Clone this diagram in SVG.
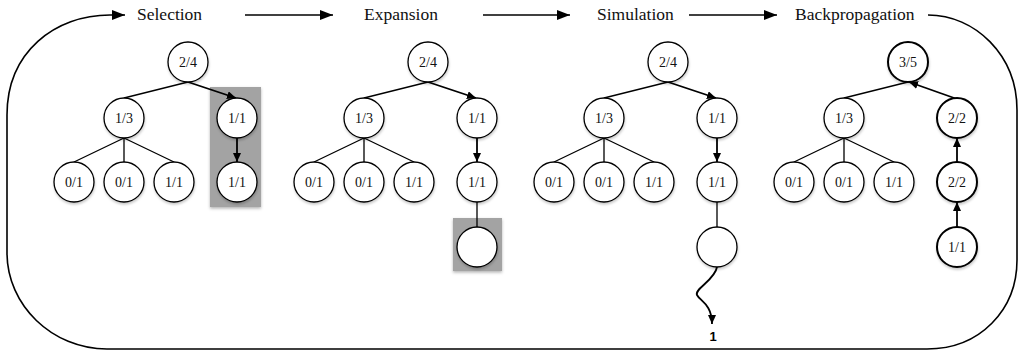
<svg xmlns="http://www.w3.org/2000/svg" width="1020" height="353" viewBox="0 0 1020 353">
<style>
.title{font-size:17.5px;fill:#111}
.lbl{font-size:14px;fill:#111;text-anchor:middle}
.n{fill:#fff;stroke:#000;stroke-width:1.3;filter:url(#sh)}
.nb{fill:#fff;stroke:#000;stroke-width:2;filter:url(#sh)}
.e{stroke:#000;stroke-width:1.3;fill:none}
.ea{stroke:#000;stroke-width:1.8;fill:none;marker-end:url(#ah)}
.flow{stroke:#000;stroke-width:1.6;fill:none}
.hl{fill:#a3a3a3;filter:url(#sh2)}
</style>
<defs>
<filter id="sh" x="-30%" y="-30%" width="160%" height="170%"><feDropShadow dx="0.5" dy="2" stdDeviation="1.2" flood-color="#000" flood-opacity="0.2"/></filter>
<filter id="sh2" x="-20%" y="-20%" width="140%" height="140%"><feDropShadow dx="0" dy="1.5" stdDeviation="1.5" flood-color="#000" flood-opacity="0.3"/></filter>
<marker id="ta" markerUnits="userSpaceOnUse" markerWidth="14" markerHeight="11" refX="13" refY="5" orient="auto"><path d="M0,0 L13,5 L0,10 z" fill="#000"/></marker>
<marker id="ah" markerUnits="userSpaceOnUse" markerWidth="10" markerHeight="9" refX="9" refY="4" orient="auto"><path d="M0,0 L9,4 L0,8 z" fill="#000"/></marker>
</defs>
<rect width="1020" height="353" fill="#fff"/>

<g id="titles" font-family="Liberation Serif, Times New Roman, serif">
<text class="title" x="137" y="20">Selection</text>
<text class="title" x="364" y="20">Expansion</text>
<text class="title" x="597" y="20">Simulation</text>
<text class="title" x="795" y="20">Backpropagation</text>
</g>

<rect id="hl-selection" class="hl" x="210" y="87" width="51" height="120"/>
<rect id="hl-expansion" class="hl" x="453" y="218" width="49" height="53"/>

<g id="connectors">
<path class="flow" marker-end="url(#ta)" d="M928,15 C975,15 1017,55 1017,110 L1017,260 C1017,310 980,349 927,349 L107,349 C52,349 7,305 7,253 L7,115 C7,52 55,15 110,15 L125,15"/>
<path class="flow" marker-end="url(#ta)" d="M245,15 L333,15"/>
<path class="flow" marker-end="url(#ta)" d="M483,15 L570,15"/>
<path class="flow" marker-end="url(#ta)" d="M689,15 L777,15"/>
<path class="e" d="M188,82 L124,98 M124,138 L74,162 M124,138 L124,162 M124,138 L174,162"/>
<path class="ea" d="M188,82 L236,98"/>
<path class="ea" d="M237,138 L237,162"/>
<path class="e" d="M428,82 L364,98 M364,138 L314,162 M364,138 L364,162 M364,138 L414,162 M477,202 L477,227"/>
<path class="ea" d="M428,82 L476,98"/>
<path class="ea" d="M477,138 L477,162"/>
<path class="e" d="M668,82 L604,98 M604,138 L554,162 M604,138 L604,162 M604,138 L654,162 M717,202 L717,227"/>
<path class="ea" d="M668,82 L716,98"/>
<path class="ea" d="M717,138 L717,162"/>
<path class="ea" d="M717,267 C715,280 694,289 697,295 C700,301 712,304 712,324"/>
<path class="e" d="M908,82 L844,98 M844,138 L794,162 M844,138 L844,162 M844,138 L894,162"/>
<path class="ea" d="M957,99 L909,82"/>
<path class="ea" d="M957,162 L957,138"/>
<path class="ea" d="M957,227 L957,202"/>
</g>
<text id="result" x="713" y="341" font-family="Liberation Sans, Arial, sans-serif" font-size="13" font-weight="bold" text-anchor="middle">1</text>

<g id="nodes" font-family="Liberation Serif, Times New Roman, serif">
<g id="s-root"><circle class="n" cx="188" cy="62" r="20"/><text class="lbl" x="188" y="67">2/4</text></g>
<g id="s-a"><circle class="n" cx="124" cy="118" r="20"/><text class="lbl" x="124" y="123">1/3</text></g>
<g id="s-b"><circle class="n" cx="237" cy="118" r="20"/><text class="lbl" x="237" y="123">1/1</text></g>
<g id="s-a1"><circle class="n" cx="74" cy="182" r="20"/><text class="lbl" x="74" y="187">0/1</text></g>
<g id="s-a2"><circle class="n" cx="124" cy="182" r="20"/><text class="lbl" x="124" y="187">0/1</text></g>
<g id="s-a3"><circle class="n" cx="174" cy="182" r="20"/><text class="lbl" x="174" y="187">1/1</text></g>
<g id="s-b1"><circle class="n" cx="237" cy="182" r="20"/><text class="lbl" x="237" y="187">1/1</text></g>

<g id="e-root"><circle class="n" cx="428" cy="62" r="20"/><text class="lbl" x="428" y="67">2/4</text></g>
<g id="e-a"><circle class="n" cx="364" cy="118" r="20"/><text class="lbl" x="364" y="123">1/3</text></g>
<g id="e-b"><circle class="n" cx="477" cy="118" r="20"/><text class="lbl" x="477" y="123">1/1</text></g>
<g id="e-a1"><circle class="n" cx="314" cy="182" r="20"/><text class="lbl" x="314" y="187">0/1</text></g>
<g id="e-a2"><circle class="n" cx="364" cy="182" r="20"/><text class="lbl" x="364" y="187">0/1</text></g>
<g id="e-a3"><circle class="n" cx="414" cy="182" r="20"/><text class="lbl" x="414" y="187">1/1</text></g>
<g id="e-b1"><circle class="n" cx="477" cy="182" r="20"/><text class="lbl" x="477" y="187">1/1</text></g>
<g id="e-b2"><circle class="n" cx="477" cy="247" r="20"/></g>

<g id="m-root"><circle class="n" cx="668" cy="62" r="20"/><text class="lbl" x="668" y="67">2/4</text></g>
<g id="m-a"><circle class="n" cx="604" cy="118" r="20"/><text class="lbl" x="604" y="123">1/3</text></g>
<g id="m-b"><circle class="n" cx="717" cy="118" r="20"/><text class="lbl" x="717" y="123">1/1</text></g>
<g id="m-a1"><circle class="n" cx="554" cy="182" r="20"/><text class="lbl" x="554" y="187">0/1</text></g>
<g id="m-a2"><circle class="n" cx="604" cy="182" r="20"/><text class="lbl" x="604" y="187">0/1</text></g>
<g id="m-a3"><circle class="n" cx="654" cy="182" r="20"/><text class="lbl" x="654" y="187">1/1</text></g>
<g id="m-b1"><circle class="n" cx="717" cy="182" r="20"/><text class="lbl" x="717" y="187">1/1</text></g>
<g id="m-b2"><circle class="n" cx="717" cy="247" r="20"/></g>

<g id="b-root"><circle class="nb" cx="908" cy="62" r="20"/><text class="lbl" x="908" y="67">3/5</text></g>
<g id="b-a"><circle class="n" cx="844" cy="118" r="20"/><text class="lbl" x="844" y="123">1/3</text></g>
<g id="b-b"><circle class="nb" cx="957" cy="118" r="20"/><text class="lbl" x="957" y="123">2/2</text></g>
<g id="b-a1"><circle class="n" cx="794" cy="182" r="20"/><text class="lbl" x="794" y="187">0/1</text></g>
<g id="b-a2"><circle class="n" cx="844" cy="182" r="20"/><text class="lbl" x="844" y="187">0/1</text></g>
<g id="b-a3"><circle class="n" cx="894" cy="182" r="20"/><text class="lbl" x="894" y="187">1/1</text></g>
<g id="b-b1"><circle class="nb" cx="957" cy="182" r="20"/><text class="lbl" x="957" y="187">2/2</text></g>
<g id="b-b2"><circle class="nb" cx="957" cy="247" r="20"/><text class="lbl" x="957" y="252">1/1</text></g>
</g>
</svg>
